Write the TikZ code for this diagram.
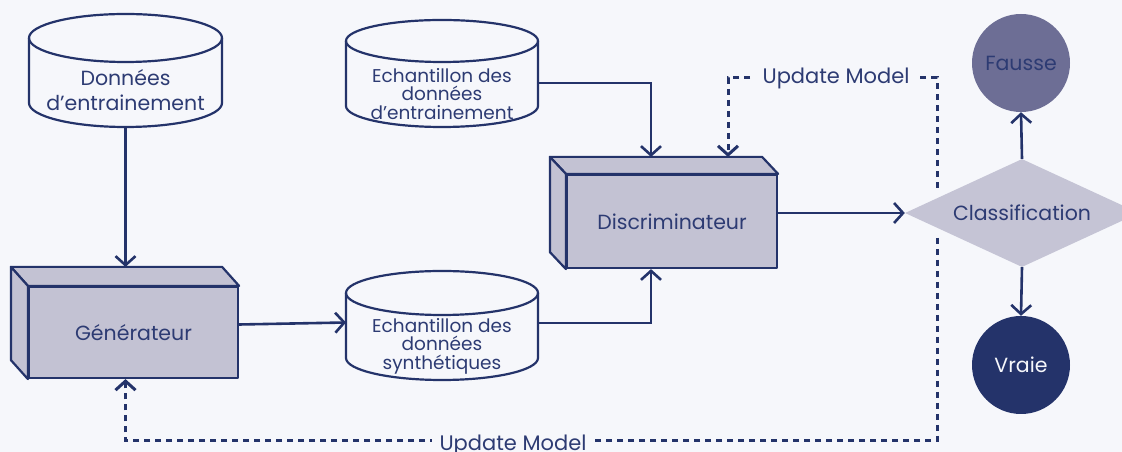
\documentclass[tikz,border=0pt]{standalone}
\usepackage{fontspec}
\setmainfont{Poppins}
\usetikzlibrary{arrows.meta,calc,shapes.geometric}

\definecolor{bg}{HTML}{F6F7FB}
\definecolor{navy}{HTML}{24336A}
\definecolor{ink}{HTML}{2D3B73}
\definecolor{slab}{HTML}{C3C2D3}
\definecolor{diam}{HTML}{C5C4D5}
\definecolor{fake}{HTML}{6D6E95}

\tikzset{
  barb/.tip={Straight Barb[length=9pt,width=20pt]},
  link/.style={draw=navy, line width=2.6pt, -barb},
  feedback/.style={draw=navy, line width=3pt, dash pattern=on 6pt off 5pt, -barb},
  drumline/.style={draw=navy, line width=2.2pt, fill=bg},
  ghost/.style={inner sep=0pt, outer sep=0pt},
  face/.style={draw=navy, line width=2.2pt, fill=slab, line join=round},
  slabfront/.style={face, inner sep=0pt, font=\fontsize{20.5}{24}\selectfont, text=ink},
  lbl/.style={text=ink, align=center},
  biglbl/.style={lbl, font=\fontsize{20.5}{25}\selectfont},
  smalllbl/.style={lbl, font=\fontsize{18.5}{18.5}\selectfont},
  upd/.style={fill=bg, text=ink, inner xsep=8pt, inner ysep=2pt, font=\fontsize{21}{24}\selectfont},
  endpoint/.style={circle, minimum size=98pt, inner sep=0pt, font=\fontsize{20.5}{24}\selectfont},
}

% drum: name, centre x, half width, top centre y, bottom centre y, ellipse y radius
\newcommand\drum[6]{%
  \filldraw[drumline] ({#2-#3},#4) -- ({#2-#3},#5)
    arc[start angle=180,end angle=360,x radius=#3,y radius=#6]
    -- ({#2+#3},#4)
    arc[start angle=0,end angle=180,x radius=#3,y radius=#6] -- cycle;
  \draw[drumline, fill=none] ({#2-#3},#4)
    arc[start angle=180,end angle=360,x radius=#3,y radius=#6];
  \node[ghost, minimum width={2*#3}, minimum height={#4-#5+2*#6}] (#1) at (#2,{(#4+#5)/2}) {};
}

\begin{document}
\begin{tikzpicture}[x=1pt,y=1pt]
\fill[bg] (0,0) rectangle (1122,452);
\useasboundingbox (0,0) rectangle (1122,452);
\clip (0,0) rectangle (1122,452);

% data stores
\drum{train}{125.5}{96.5}{414}{349}{24}
\node[biglbl] (traintxt) at (125.5,362) {Données\\d’entrainement};

\drum{sample}{442}{96}{411}{346}{21}
\node[smalllbl] (sampletxt) at (442,358) {Echantillon des\\données\\d’entrainement};

\drum{synth}{442}{96}{159}{94}{22}
\node[smalllbl] (synthtxt) at (442,106) {Echantillon des\\données\\synthétiques};

% generator block
\node[slabfront, minimum width=209pt, minimum height=91pt] (gen) at (133.5,119.5) {Générateur};
\draw[face] (gen.north west) -- ++(-17,19) -- ($(gen.north east)+(-17,19)$) -- (gen.north east) -- cycle;
\draw[face] (gen.north west) -- ++(-17,19) -- ($(gen.south west)+(-17,19)$) -- (gen.south west) -- cycle;

% discriminator block
\node[slabfront, minimum width=210pt, minimum height=93pt] (disc) at (672,230.5) {Discriminateur};
\draw[face] (disc.north west) -- ++(-16,17) -- ($(disc.north east)+(-16,17)$) -- (disc.north east) -- cycle;
\draw[face] (disc.north west) -- ++(-16,17) -- ($(disc.south west)+(-16,17)$) -- (disc.south west) -- cycle;

% decision and outcomes
\node[diamond, aspect=2.1667, fill=diam, minimum width=234pt, minimum height=108pt,
      inner sep=0pt, text=ink, font=\fontsize{20.5}{24}\selectfont] (cls) at (1022,239) {Classification};
\node[endpoint, fill=fake, text=ink] (fausse) at (1021,389) {Fausse};
\node[endpoint, fill=navy, text=bg] (vraie) at (1021,87) {Vraie};

% anchor points on the blocks
\coordinate (gentop) at ($(gen.north)+(-8,19)$);
\coordinate (genbot) at ($(gen.south)+(-8,0)$);
\coordinate (disctopA) at ($(disc.north)+(-21,17)$);
\coordinate (disctopB) at ($(disc.north)+(56,17)$);
\coordinate (discbot) at ($(disc.south)+(-21,0)$);
\coordinate (fbtop) at (937,264);
\coordinate (fbbot) at (937,214);

% data flow
\draw[link] (train.south) -- (gentop);
\draw[link] ($(gen.east)+(0,8)$) -- ($(synth.west)+(0,3)$);
\draw[link] ($(sample.east)+(0,-9.5)$) -| (disctopA);
\draw[link] ($(synth.east)+(0,2.5)$) -| (discbot);
\draw[link] (disc.east |- cls.west) -- (cls.west);
\draw[link] (cls.north) -- (fausse.south);
\draw[link] (cls.south) -- (vraie.north);

% model updates
\draw[feedback] (fbtop) -- (937,374) -- node[upd, pos=0.483] (updtop) {Update Model} (728,374) -- (disctopB);
\draw[feedback] (fbbot) -- (937,11) -- node[upd, pos=0.5225, yshift=-4pt] (updbot) {Update Model} (125.5,11) -- (genbot);
\end{tikzpicture}
\end{document}
